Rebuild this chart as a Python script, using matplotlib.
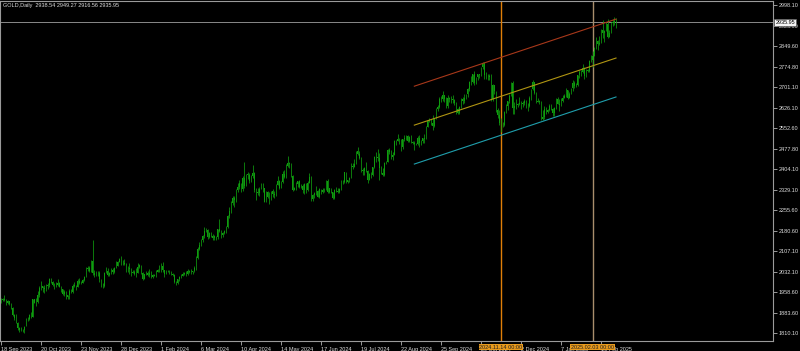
"""
GOLD daily candles, Sep 2023 - Feb 2025, MetaTrader style dark chart
with a regression channel and two vertical marker lines.
"""

import numpy as np
import pandas as pd
import matplotlib
matplotlib.use("Agg")
import matplotlib.pyplot as plt
import matplotlib.transforms as mtransforms

FONT = ["Liberation Sans", "DejaVu Sans"]
FS = 4.0

# Trading calendar: weekdays minus the days the broker had no bar.
FIRST_DAY = "2023-09-18"
LAST_DAY = "2025-02-21"
NO_BAR_DAYS = ["2023-12-25", "2024-01-01", "2024-03-29", "2024-12-25", "2025-01-01"]

OPEN = [
    1924, 1934, 1931, 1930, 1920, 1925, 1915, 1900, 1875, 1864,
    1848, 1827, 1822, 1821, 1820, 1838, 1861, 1861, 1874, 1869, 1932, 1920, 1923, 1948, 1974, 1981, 1973, 1971, 1979, 1985, 2006, 1996,
    1983, 1983, 1985, 1992, 1977, 1969, 1950, 1958, 1940, 1946, 1963, 1959, 1981, 1981, 1978, 1998, 1990, 1992, 2002, 2014, 2041, 2044,
    2036, 2072, 2029, 2019, 2026, 2028, 2004, 1982, 1980, 2027, 2036, 2020, 2028, 2040, 2031, 2046, 2053, 2068, 2077, 2065,
    2063, 2059, 2042, 2043, 2045, 2028, 2030, 2024, 2029, 2049, 2055, 2028, 2006, 2023, 2029, 2021, 2029, 2014, 2021, 2018, 2032, 2037,
    2039, 2054, 2039, 2025, 2035, 2034, 2033, 2024, 2020, 1993, 1992, 2004, 2013, 2017, 2025, 2025, 2024, 2036, 2031, 2030, 2034,
    2044, 2083, 2114, 2128, 2148, 2160, 2179, 2182, 2158, 2174, 2162, 2155, 2160, 2157, 2186, 2181, 2165, 2171, 2179, 2194,
    2233, 2251, 2280, 2300, 2290, 2329, 2339, 2352, 2333, 2372, 2344, 2383, 2383, 2361, 2379, 2391, 2327, 2322, 2316, 2332, 2337, 2335,
    2286, 2320, 2303, 2301, 2323, 2314, 2309, 2346, 2360, 2336, 2358, 2386, 2376, 2415, 2425, 2421, 2379, 2329, 2334, 2351, 2360, 2338, 2343,
    2327, 2350, 2327, 2355, 2376, 2294, 2311, 2316, 2324, 2302, 2332, 2319, 2329, 2328, 2360, 2322, 2334, 2319, 2298, 2327,
    2326, 2322, 2330, 2356, 2356, 2392, 2358, 2364, 2371, 2415, 2411, 2422, 2469, 2459, 2445, 2400, 2396, 2409, 2397, 2364, 2387, 2384, 2410,
    2447, 2446, 2443, 2409, 2390, 2382, 2427, 2431, 2472, 2465, 2447, 2456, 2507, 2504, 2514, 2512, 2484, 2512, 2518, 2524, 2504, 2521,
    2503, 2500, 2493, 2495, 2516, 2497, 2506, 2516, 2512, 2558, 2578, 2582, 2570, 2559, 2586, 2622, 2628, 2657, 2657, 2672, 2658,
    2634, 2663, 2658, 2656, 2653, 2644, 2622, 2608, 2630, 2657, 2649, 2662, 2674, 2693, 2721, 2719, 2748, 2715, 2736, 2747, 2743, 2774, 2788,
    2744, 2736, 2736, 2742, 2659, 2707, 2685, 2618, 2598, 2572, 2565, 2562, 2612, 2631, 2650, 2670, 2715, 2625, 2633, 2636, 2639,
    2643, 2640, 2643, 2650, 2631, 2633, 2660, 2694, 2718, 2681, 2648, 2652, 2646, 2587, 2594, 2622, 2612, 2617, 2634, 2621, 2606,
    2625, 2658, 2640, 2636, 2649, 2662, 2670, 2690, 2663, 2677, 2696, 2715, 2703, 2708, 2743, 2756, 2756, 2770, 2740, 2763, 2760, 2794,
    2798, 2815, 2842, 2867, 2856, 2861, 2907, 2898, 2905, 2928, 2883, 2898, 2935, 2933, 2938.54,
]
HIGH = [
    1937, 1938, 1947, 1933, 1930, 1926, 1917, 1903, 1880, 1880,
    1851, 1831, 1830, 1826, 1834, 1865, 1867, 1880, 1885, 1933, 1935, 1938, 1962, 1981, 1997, 1982, 1984, 1986, 1991, 2010, 2010, 2000,
    1990, 1993, 2004, 1993, 1980, 1971, 1965, 1961, 1948, 1971, 1970, 1988, 1993, 1985, 2007, 2008, 1997, 2006, 2018, 2048, 2052, 2052,
    2075, 2146, 2039, 2036, 2035, 2035, 2007, 1990, 2030, 2048, 2047, 2031, 2046, 2047, 2049, 2070, 2070, 2083, 2088, 2073,
    2079, 2065, 2051, 2064, 2047, 2040, 2038, 2044, 2062, 2060, 2057, 2030, 2025, 2034, 2035, 2041, 2036, 2024, 2024, 2040, 2043, 2055,
    2065, 2066, 2040, 2040, 2040, 2038, 2036, 2028, 2024, 1998, 2007, 2016, 2022, 2031, 2030, 2035, 2041, 2038, 2042, 2036, 2052,
    2088, 2120, 2141, 2152, 2165, 2195, 2189, 2185, 2177, 2175, 2167, 2165, 2163, 2188, 2222, 2183, 2176, 2184, 2196, 2236,
    2265, 2288, 2305, 2305, 2330, 2354, 2365, 2354, 2378, 2431, 2386, 2392, 2389, 2383, 2417, 2392, 2334, 2335, 2338, 2352, 2352, 2336,
    2326, 2326, 2320, 2326, 2330, 2325, 2350, 2378, 2364, 2360, 2396, 2400, 2422, 2450, 2430, 2426, 2384, 2338, 2358, 2362, 2364, 2351, 2348,
    2354, 2353, 2359, 2388, 2378, 2312, 2320, 2342, 2327, 2335, 2333, 2334, 2337, 2366, 2368, 2337, 2335, 2322, 2331, 2339,
    2336, 2334, 2364, 2363, 2393, 2392, 2366, 2375, 2425, 2425, 2440, 2470, 2483, 2470, 2447, 2409, 2412, 2431, 2399, 2390, 2395, 2413, 2451,
    2465, 2477, 2461, 2414, 2406, 2431, 2434, 2475, 2479, 2472, 2464, 2510, 2510, 2531, 2516, 2514, 2514, 2527, 2526, 2528, 2524, 2526,
    2506, 2504, 2499, 2523, 2529, 2509, 2518, 2530, 2560, 2581, 2589, 2584, 2600, 2590, 2625, 2635, 2664, 2670, 2685, 2673, 2666,
    2673, 2665, 2668, 2671, 2659, 2646, 2625, 2633, 2662, 2666, 2674, 2676, 2696, 2722, 2740, 2749, 2758, 2738, 2750, 2748, 2775, 2790, 2790,
    2757, 2748, 2750, 2750, 2711, 2710, 2685, 2626, 2618, 2588, 2574, 2614, 2639, 2651, 2674, 2721, 2722, 2646, 2659, 2642, 2665,
    2650, 2650, 2658, 2655, 2644, 2667, 2695, 2726, 2719, 2683, 2660, 2653, 2650, 2619, 2632, 2630, 2622, 2638, 2639, 2625, 2628,
    2662, 2664, 2658, 2661, 2671, 2675, 2697, 2692, 2683, 2698, 2725, 2724, 2714, 2746, 2763, 2763, 2786, 2773, 2767, 2768, 2800, 2817,
    2830, 2845, 2882, 2870, 2886, 2911, 2942, 2909, 2937, 2946, 2906, 2938, 2947, 2955, 2949.27,
]
LOW = [
    1920, 1926, 1926, 1913, 1915, 1912, 1898, 1872, 1857, 1845,
    1822, 1815, 1818, 1813, 1810, 1837, 1853, 1858, 1863, 1868, 1918, 1909, 1920, 1941, 1967, 1960, 1954, 1962, 1970, 1977, 1990, 1980,
    1970, 1978, 1980, 1975, 1959, 1947, 1944, 1932, 1932, 1935, 1955, 1956, 1975, 1966, 1975, 1987, 1988, 1990, 1998, 2012, 2035, 2031,
    2032, 2019, 2014, 2018, 2016, 1995, 1976, 1973, 1975, 2026, 2017, 2016, 2025, 2025, 2029, 2045, 2052, 2066, 2058, 2057,
    2057, 2031, 2030, 2024, 2016, 2026, 2021, 2014, 2027, 2046, 2022, 2001, 2004, 2021, 2015, 2014, 2010, 2009, 2016, 2013, 2032, 2030,
    2032, 2032, 2014, 2023, 2030, 2025, 2021, 2015, 1990, 1984, 1989, 2000, 2011, 2016, 2020, 2017, 2021, 2027, 2025, 2024, 2030,
    2040, 2078, 2111, 2127, 2140, 2154, 2175, 2150, 2155, 2156, 2147, 2146, 2146, 2149, 2175, 2155, 2158, 2168, 2172, 2190,
    2228, 2244, 2275, 2268, 2284, 2321, 2332, 2320, 2326, 2337, 2343, 2368, 2353, 2357, 2373, 2322, 2292, 2310, 2306, 2331, 2321, 2285,
    2285, 2300, 2278, 2292, 2303, 2300, 2306, 2345, 2333, 2336, 2354, 2370, 2373, 2411, 2408, 2374, 2325, 2327, 2329, 2340, 2335, 2334, 2318,
    2314, 2316, 2326, 2352, 2287, 2287, 2299, 2311, 2301, 2300, 2313, 2316, 2322, 2328, 2318, 2318, 2316, 2294, 2296, 2320,
    2318, 2316, 2329, 2350, 2353, 2352, 2352, 2358, 2370, 2405, 2410, 2421, 2455, 2440, 2394, 2384, 2384, 2395, 2353, 2363, 2370, 2380, 2407,
    2430, 2433, 2364, 2385, 2380, 2380, 2422, 2430, 2460, 2440, 2438, 2456, 2492, 2504, 2495, 2470, 2478, 2506, 2509, 2501, 2501, 2500,
    2493, 2472, 2490, 2491, 2485, 2492, 2498, 2500, 2511, 2555, 2573, 2565, 2547, 2555, 2585, 2614, 2624, 2645, 2651, 2645, 2624,
    2625, 2647, 2642, 2643, 2635, 2604, 2603, 2603, 2624, 2640, 2644, 2658, 2666, 2687, 2708, 2715, 2708, 2713, 2728, 2734, 2740, 2765, 2730,
    2730, 2725, 2728, 2652, 2651, 2675, 2610, 2590, 2565, 2537, 2555, 2559, 2608, 2619, 2643, 2669, 2602, 2605, 2623, 2627, 2635,
    2621, 2628, 2637, 2624, 2614, 2629, 2655, 2690, 2677, 2643, 2645, 2640, 2583, 2583, 2585, 2604, 2608, 2613, 2616, 2597, 2596,
    2623, 2638, 2615, 2631, 2646, 2660, 2664, 2656, 2663, 2676, 2686, 2699, 2701, 2705, 2732, 2741, 2752, 2730, 2739, 2756, 2756, 2790,
    2773, 2812, 2840, 2834, 2854, 2860, 2880, 2864, 2903, 2877, 2882, 2896, 2922, 2924, 2916.56,
]
CLOSE = [
    1934, 1931, 1930, 1920, 1925, 1915, 1900, 1875, 1864, 1848,
    1827, 1822, 1821, 1820, 1833, 1861, 1861, 1874, 1868, 1932, 1920, 1923, 1948, 1974, 1981, 1973, 1971, 1979, 1985, 2006, 1996, 1983,
    1983, 1985, 1992, 1977, 1969, 1950, 1958, 1940, 1946, 1963, 1959, 1981, 1981, 1978, 1998, 1990, 1992, 2002, 2014, 2041, 2044, 2036,
    2072, 2029, 2019, 2026, 2028, 2004, 1982, 1980, 2027, 2036, 2020, 2028, 2040, 2031, 2046, 2053, 2068, 2077, 2065, 2063,
    2059, 2042, 2043, 2045, 2028, 2030, 2024, 2029, 2049, 2055, 2028, 2006, 2023, 2029, 2021, 2029, 2014, 2021, 2018, 2032, 2037, 2039,
    2054, 2039, 2025, 2035, 2034, 2033, 2024, 2020, 1993, 1992, 2004, 2013, 2017, 2025, 2025, 2024, 2036, 2031, 2030, 2034, 2044,
    2083, 2114, 2128, 2148, 2160, 2179, 2182, 2158, 2174, 2162, 2155, 2160, 2157, 2186, 2181, 2165, 2171, 2179, 2194, 2233,
    2251, 2280, 2300, 2290, 2329, 2339, 2352, 2333, 2372, 2344, 2383, 2383, 2361, 2379, 2391, 2327, 2322, 2316, 2332, 2337, 2335, 2286,
    2320, 2303, 2301, 2323, 2314, 2309, 2346, 2360, 2336, 2358, 2386, 2376, 2415, 2425, 2421, 2379, 2329, 2334, 2351, 2360, 2338, 2343, 2327,
    2350, 2327, 2355, 2376, 2294, 2311, 2316, 2324, 2302, 2332, 2319, 2329, 2328, 2360, 2322, 2334, 2319, 2298, 2327, 2326,
    2322, 2330, 2356, 2356, 2392, 2358, 2364, 2371, 2415, 2411, 2422, 2469, 2459, 2445, 2400, 2396, 2409, 2397, 2364, 2387, 2384, 2410, 2447,
    2446, 2443, 2409, 2390, 2382, 2427, 2431, 2472, 2465, 2447, 2456, 2507, 2504, 2514, 2512, 2484, 2512, 2518, 2524, 2504, 2521, 2503,
    2500, 2493, 2495, 2516, 2497, 2506, 2516, 2512, 2558, 2578, 2582, 2570, 2559, 2586, 2622, 2628, 2657, 2657, 2672, 2658, 2634,
    2663, 2658, 2656, 2653, 2644, 2622, 2608, 2630, 2657, 2649, 2662, 2674, 2693, 2721, 2719, 2748, 2715, 2736, 2747, 2743, 2774, 2788, 2744,
    2736, 2736, 2742, 2659, 2707, 2685, 2618, 2598, 2572, 2565, 2562, 2612, 2631, 2650, 2670, 2715, 2625, 2633, 2636, 2639, 2643,
    2640, 2643, 2650, 2631, 2633, 2660, 2694, 2718, 2681, 2648, 2652, 2646, 2587, 2594, 2622, 2612, 2617, 2634, 2621, 2606, 2625,
    2658, 2640, 2636, 2649, 2662, 2670, 2690, 2663, 2677, 2696, 2715, 2703, 2708, 2743, 2756, 2756, 2770, 2740, 2763, 2760, 2794, 2798,
    2815, 2842, 2867, 2856, 2861, 2907, 2898, 2905, 2928, 2883, 2898, 2935, 2933, 2939, 2935.95,
]

# Price axis labels (right side).
Y_TICKS = [2998.10, 2923.60, 2849.60, 2774.80, 2701.10, 2626.10, 2552.60, 2477.80,
           2404.10, 2329.10, 2255.60, 2180.60, 2107.10, 2032.10, 1958.60, 1883.60, 1810.10]

# Time axis labels: date of the bar each label sits on.
X_TICK_DATES = ["2023-09-18", "2023-10-20", "2023-11-23", "2023-12-28", "2024-02-01",
                "2024-03-06", "2024-04-10", "2024-05-14", "2024-06-17", "2024-07-19",
                "2024-08-22", "2024-09-25", "2024-10-29", "2024-12-02", "2025-01-07",
                "2025-02-10"]
X_TICK_LABELS = ["18 Sep 2023", "20 Oct 2023", "23 Nov 2023", "28 Dec 2023", "1 Feb 2024",
                 "6 Mar 2024", "10 Apr 2024", "14 May 2024", "17 Jun 2024", "19 Jul 2024",
                 "22 Aug 2024", "25 Sep 2024", "29 Oct 2024", "2 Dec 2024", "7 Jan 2025",
                 "10 Feb 2025"]

# Regression channel: first/last bar, middle line prices, half width.
CHANNEL_DATES = ["2024-09-03", "2025-02-21"]
CHANNEL_MID = [2563, 2806]
CHANNEL_HALF = 141

# Vertical marker lines.
VLINE_DATES = ["2024-11-14", "2025-02-03"]
VLINE_LABELS = ["2024.11.14 00:00", "2025.02.03 00:00"]

TITLE = "GOLD,Daily  2938.54 2949.27 2916.56 2935.95"

BG = "#000000"
FG = "#dcdcdc"
FRAME = "#9a9a9a"
CANDLE = "#0f9c0f"


def trading_days():
    days = pd.bdate_range(FIRST_DAY, LAST_DAY)
    return days[~days.isin(pd.to_datetime(NO_BAR_DAYS))]


def main():
    days = trading_days()
    pos = {d: i for i, d in enumerate(days)}
    n = len(days)
    assert n == len(OPEN) == len(HIGH) == len(LOW) == len(CLOSE), (
        n, len(OPEN), len(HIGH), len(LOW), len(CLOSE))

    x = np.arange(n)
    o = np.array(OPEN, float)
    h = np.array(HIGH, float)
    lo = np.array(LOW, float)
    c = np.array(CLOSE, float)

    fig = plt.figure(figsize=(8.0, 3.51), dpi=100, facecolor=BG)
    ax = fig.add_axes([0.0, 10 / 351, 773 / 800, 340 / 351], facecolor=BG)

    # Candles: wick plus a narrow body.
    ax.vlines(x, lo, h, color=CANDLE, linewidth=0.55, zorder=3)
    body = np.abs(c - o)
    body = np.where(body < 1.5, 1.5, body)
    ax.bar(x, body, bottom=np.minimum(o, c), width=0.5, color=CANDLE,
           linewidth=0, zorder=3)

    # Regression channel.
    cx = [pos[pd.Timestamp(d)] for d in CHANNEL_DATES]
    mid = np.array(CHANNEL_MID, float)
    ax.plot(cx, mid + CHANNEL_HALF, color="#a8381a", linewidth=0.8, zorder=4)
    ax.plot(cx, mid, color="#b09512", linewidth=0.8, zorder=4)
    ax.plot(cx, mid - CHANNEL_HALF, color="#1f9eac", linewidth=0.8, zorder=4)

    # Current price line.
    ax.axhline(c[-1], color="#8a8a8a", linewidth=0.7, zorder=2)

    # Vertical markers with their time labels on the axis.
    trans = mtransforms.blended_transform_factory(ax.transData, ax.transAxes)
    vcolors = ["#e07f08", "#a88e6c"]
    for d, lab, col in zip(VLINE_DATES, VLINE_LABELS, vcolors):
        vx = pos[pd.Timestamp(d)]
        ax.axvline(vx, color=col, linewidth=1.0, zorder=2)
        ax.text(vx, -0.018, lab, transform=trans, ha="center", va="center",
                fontsize=FS, family=FONT, color="#202020", clip_on=False,
                zorder=10,
                bbox=dict(boxstyle="square,pad=0.15", facecolor="#e89a1c",
                          edgecolor="none"))

    # Axis limits matching the screenshot scale.
    ax.set_xlim(-0.6, 463.2)
    ax.set_ylim(1781.1, 3012.6)

    ax.yaxis.tick_right()
    ax.set_yticks(Y_TICKS)
    ax.set_yticklabels([f"{v:.2f}" for v in Y_TICKS])
    ax.set_xticks([pos[pd.Timestamp(d)] for d in X_TICK_DATES])
    ax.set_xticklabels(X_TICK_LABELS, ha="left")
    ax.tick_params(axis="both", colors=FRAME, length=3, width=0.7,
                   labelsize=FS, labelcolor=FG, pad=1.2)
    for lab in ax.get_xticklabels() + ax.get_yticklabels():
        lab.set_family(FONT)
    for sp in ax.spines.values():
        sp.set_color(FRAME)
        sp.set_linewidth(0.8)

    # Last price box on the price axis.
    ytrans = mtransforms.blended_transform_factory(ax.transAxes, ax.transData)
    ax.text(1.003, c[-1], f"{c[-1]:.2f}", transform=ytrans, ha="left",
            va="center", fontsize=FS, family=FONT, color="#000000",
            clip_on=False, zorder=10,
            bbox=dict(boxstyle="square,pad=0.2", facecolor="#f4f4f4",
                      edgecolor="#606060", linewidth=0.5))

    fig.text(0.004, 0.992, TITLE, ha="left", va="top", fontsize=FS,
             family=FONT, color=FG)

    fig.savefig("out.png", dpi=100, facecolor=BG)


if __name__ == "__main__":
    main()
